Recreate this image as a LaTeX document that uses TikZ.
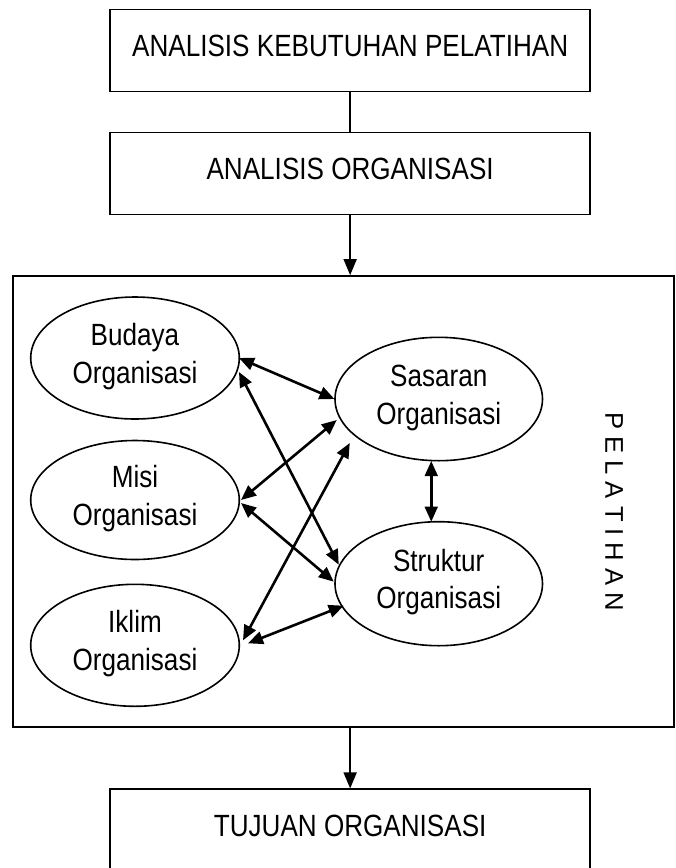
\documentclass[tikz,border=0pt]{standalone}
\usepackage{fontspec}
\setmainfont{Liberation Sans}[FakeStretch=0.85]
\newfontfamily\plainsans{Liberation Sans}
\usetikzlibrary{arrows.meta,shapes.geometric,calc}
\newcommand{\boxtext}[1]{\raisebox{0pt}[12.6pt][0pt]{#1}}
\newcommand{\twoline}[2]{\raisebox{0pt}[50pt][0pt]{\vbox{\baselineskip=37.5pt\lineskiplimit=-\maxdimen\halign{\hfil##\hfil\cr#1\cr#2\cr}}}}
\begin{document}
\begin{tikzpicture}[x=1pt,y=-1pt,
  every node/.style={inner sep=0pt},
  txt/.style={font=\fontsize{30.7}{37.5}\selectfont},
  rbox/.style={draw, line width=1.7pt, rectangle, minimum width=480.3pt, minimum height=82.2pt, txt},
  frame/.style={draw, line width=1.7pt, rectangle, minimum width=660.7pt, minimum height=450.7pt},
  lell/.style={draw, line width=1.6pt, ellipse, minimum width=208.6pt, minimum height=122pt, txt},
  rell/.style={draw, line width=1.6pt, ellipse, minimum width=207.5pt, minimum height=124pt, txt},
  conn/.style={line width=1.7pt},
  varr/.style={line width=1.7pt, -{Triangle[length=16pt,width=13pt]}},
  darr/.style={line width=2.6pt, {Triangle[length=15pt,width=12.7pt]}-{Triangle[length=15pt,width=12.7pt]}},
  vlabel/.style={font=\plainsans\fontsize{25.6}{30}\selectfont, rotate=-90}
]
\useasboundingbox (0,0) rectangle (676,868);
\clip (0,0) rectangle (676,868);
\fill[white] (0,0) rectangle (676,868);

% boxes
\node[rbox] (b1) at (350.15,50.5) {\boxtext{ANALISIS KEBUTUHAN PELATIHAN}};
\node[rbox] (b2) at (350.15,173.5) {\boxtext{ANALISIS ORGANISASI}};
\node[frame] (big) at (343.65,501.35) {};
\node[rbox] (b3) at (350.15,830.4) {\boxtext{TUJUAN ORGANISASI}};

% ellipses
\node[lell] (bud) at (135,358) {\twoline{Budaya}{Organisasi}};
\node[lell, minimum height=119pt] (mis) at (135,500) {\twoline{Misi}{Organisasi}};
\node[lell] (ikl) at (135,645.3) {\twoline{Iklim}{Organisasi}};
\node[rell, minimum height=123.4pt] (sas) at (438.75,399) {\twoline{Sasaran}{Organisasi}};
\node[rell] (str) at (438.75,583.7) {\twoline{Struktur}{Organisasi}};

% vertical label
\node[vlabel] (pel) at (614.2,511.7) {P E L A T I H A N};

% vertical connectors
\draw[conn] (b1.south) -- (b2.north);
\draw[varr] (b2.south) -- (b2.south |- big.north);
\draw[varr] (big.south -| b3.north) -- (b3.north);

% double arrows
\draw[darr] ($(bud.center)+(104,0)$) -- ($(sas.center)+(-104.3,0)$);
\draw[darr] ($(bud.center)+(104,14)$) -- ($(str.center)+(-100,-19)$);
\draw[darr] ($(mis.center)+(106,0)$) -- ($(sas.center)+(-102,21)$);
\draw[darr] ($(mis.center)+(106,3)$) -- ($(str.center)+(-105,-2)$);
\draw[darr] ($(ikl.center)+(108,-5)$) -- ($(sas.center)+(-89,44)$);
\draw[darr] ($(ikl.center)+(113,-2)$) -- ($(str.center)+(-95,22)$);
\draw[darr] ($(sas.center)+(-7.5,62)$) -- ($(str.center)+(-7.5,-62)$);
\end{tikzpicture}
\end{document}
